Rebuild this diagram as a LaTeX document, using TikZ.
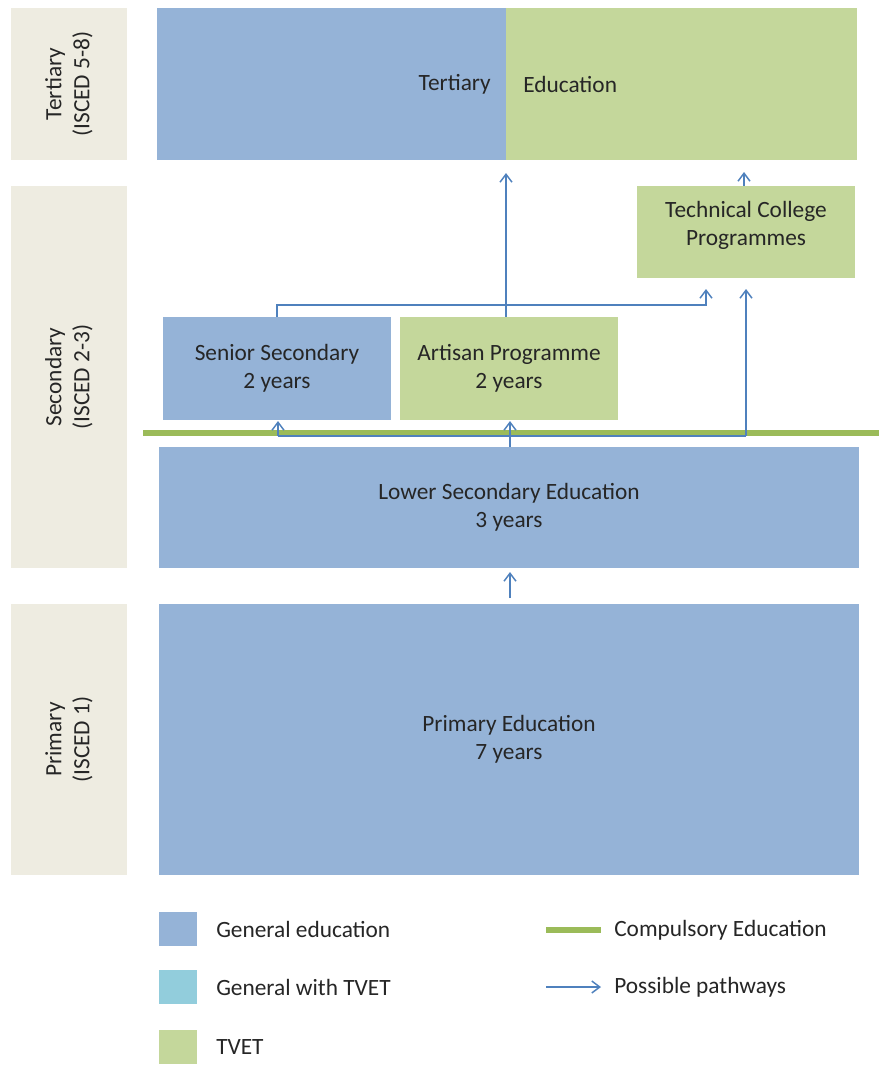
\documentclass[tikz,border=0pt]{standalone}
\usepackage{fontspec}
\setmainfont{Carlito}
\usetikzlibrary{arrows.meta}
\definecolor{genblue}{HTML}{95B3D7}
\definecolor{tvetgreen}{HTML}{C4D79B}
\definecolor{gentvet}{HTML}{92CDDC}
\definecolor{beige}{HTML}{EEECE1}
\definecolor{compgreen}{HTML}{9BBB59}
\definecolor{pathblue}{HTML}{4F81BD}
\definecolor{txt}{HTML}{262626}
\begin{document}
\begin{tikzpicture}[x=0.75pt,y=-0.75pt,
  every node/.style={font=\fontsize{17.5}{21}\selectfont, text=txt},
  blk/.style={inner sep=0pt, align=center},
  lvl/.style={blk, fill=beige},
  gen/.style={blk, fill=genblue},
  tvet/.style={blk, fill=tvetgreen},
  path/.style={draw=pathblue, line width=1.1pt},
  patharrow/.style={path, -{Straight Barb[length=6pt,width=9pt,line width=1.1pt]}},
  comp/.style={draw=compgreen, line width=3.8pt}
]
\useasboundingbox[fill=white] (0,0) rectangle (879,1065);

% level labels
\node[lvl, minimum width=87pt, minimum height=114pt] (lt) at (69,84) {};
\node[rotate=90, align=center] (ltt) at (69,84) {Tertiary\\(ISCED 5-8)};
\node[lvl, minimum width=87pt, minimum height=286.5pt] (ls) at (69,377) {};
\node[rotate=90, align=center] (lst) at (69,377) {Secondary\\(ISCED 2-3)};
\node[lvl, minimum width=87pt, minimum height=203.25pt] (lp) at (69,739.5) {};
\node[rotate=90, align=center] (lpt) at (69,739.5) {Primary\\(ISCED 1)};

% tertiary
\node[gen, minimum width=261.75pt, minimum height=114pt] (terb) at (331.5,84) {};
\node[tvet, minimum width=263.25pt, minimum height=114pt] (terg) at (681.5,84) {};
\node[anchor=east, inner sep=0pt] (tert1) at (491,84) {Tertiary};
\node[anchor=west, inner sep=0pt] (tert2) at (523,84) {Education};

% technical college
\node[tvet, minimum width=163.5pt, minimum height=69pt] (tcp) at (746,232) {};
\node[align=center] (tcpt) at (746,225) {Technical College\\Programmes};

% senior / artisan
\node[gen, minimum width=171pt, minimum height=77.25pt] (sen) at (277,368.5) {Senior Secondary\\2 years};
\node[tvet, minimum width=163.5pt, minimum height=77.25pt] (art) at (509,368.5) {Artisan Programme\\2 years};

% compulsory line
\coordinate (cl1) at (143,433);
\coordinate (cl2) at (879,433);
\draw[comp] (cl1) -- (cl2);

% lower secondary and primary
\node[gen, minimum width=525pt, minimum height=90.75pt] (low) at (509,507.5) {Lower Secondary Education\\3 years};
\node[gen, minimum width=525pt, minimum height=203.25pt] (pri) at (509,739.5) {Primary Education\\7 years};

% pathways
\coordinate (a1) at (277,305);
\coordinate (a2) at (706,305);
\coordinate (a3) at (706,289);
\draw[patharrow] (sen.north) -- (a1) -- (a2) -- (a3);
\coordinate (b1) at (506,173);
\draw[patharrow] (art.north -| b1) -- (b1);
\coordinate (c1) at (744,172);
\draw[patharrow] (tcp.north -| c1) -- (c1);
\coordinate (d1) at (278,436);
\coordinate (d2) at (746,436);
\coordinate (d3) at (746,289);
\draw[path] (d1) -- (d2);
\draw[patharrow] (d2) -- (d3);
\coordinate (d4) at (278,421);
\draw[patharrow] (d1) -- (d4);
\coordinate (e1) at (510,421);
\draw[patharrow] (low.north -| e1) -- (e1);
\coordinate (f0) at (510,598);
\coordinate (f1) at (510,572);
\draw[patharrow] (f0) -- (f1);

% legend
\node[gen, minimum width=28.5pt, minimum height=25.5pt] (lg1) at (178,929) {};
\node[anchor=west, inner sep=0pt] (lg1t) at (216,929) {General education};
\node[blk, fill=gentvet, minimum width=28.5pt, minimum height=25.5pt] (lg2) at (178,987) {};
\node[anchor=west, inner sep=0pt] (lg2t) at (216,987) {General with TVET};
\node[tvet, minimum width=28.5pt, minimum height=25.5pt] (lg3) at (178,1047) {};
\node[anchor=west, inner sep=0pt] (lg3t) at (216,1047) {TVET};
\coordinate (lc1) at (546,930);
\coordinate (lc2) at (601,930);
\draw[comp] (lc1) -- (lc2);
\node[anchor=west, inner sep=0pt] (lct) at (614,930) {Compulsory Education};
\coordinate (lp1) at (546,987);
\coordinate (lp2) at (601,987);
\draw[patharrow] (lp1) -- (lp2);
\node[anchor=west, inner sep=0pt] (lpt2) at (614,987) {Possible pathways};
\end{tikzpicture}
\end{document}
